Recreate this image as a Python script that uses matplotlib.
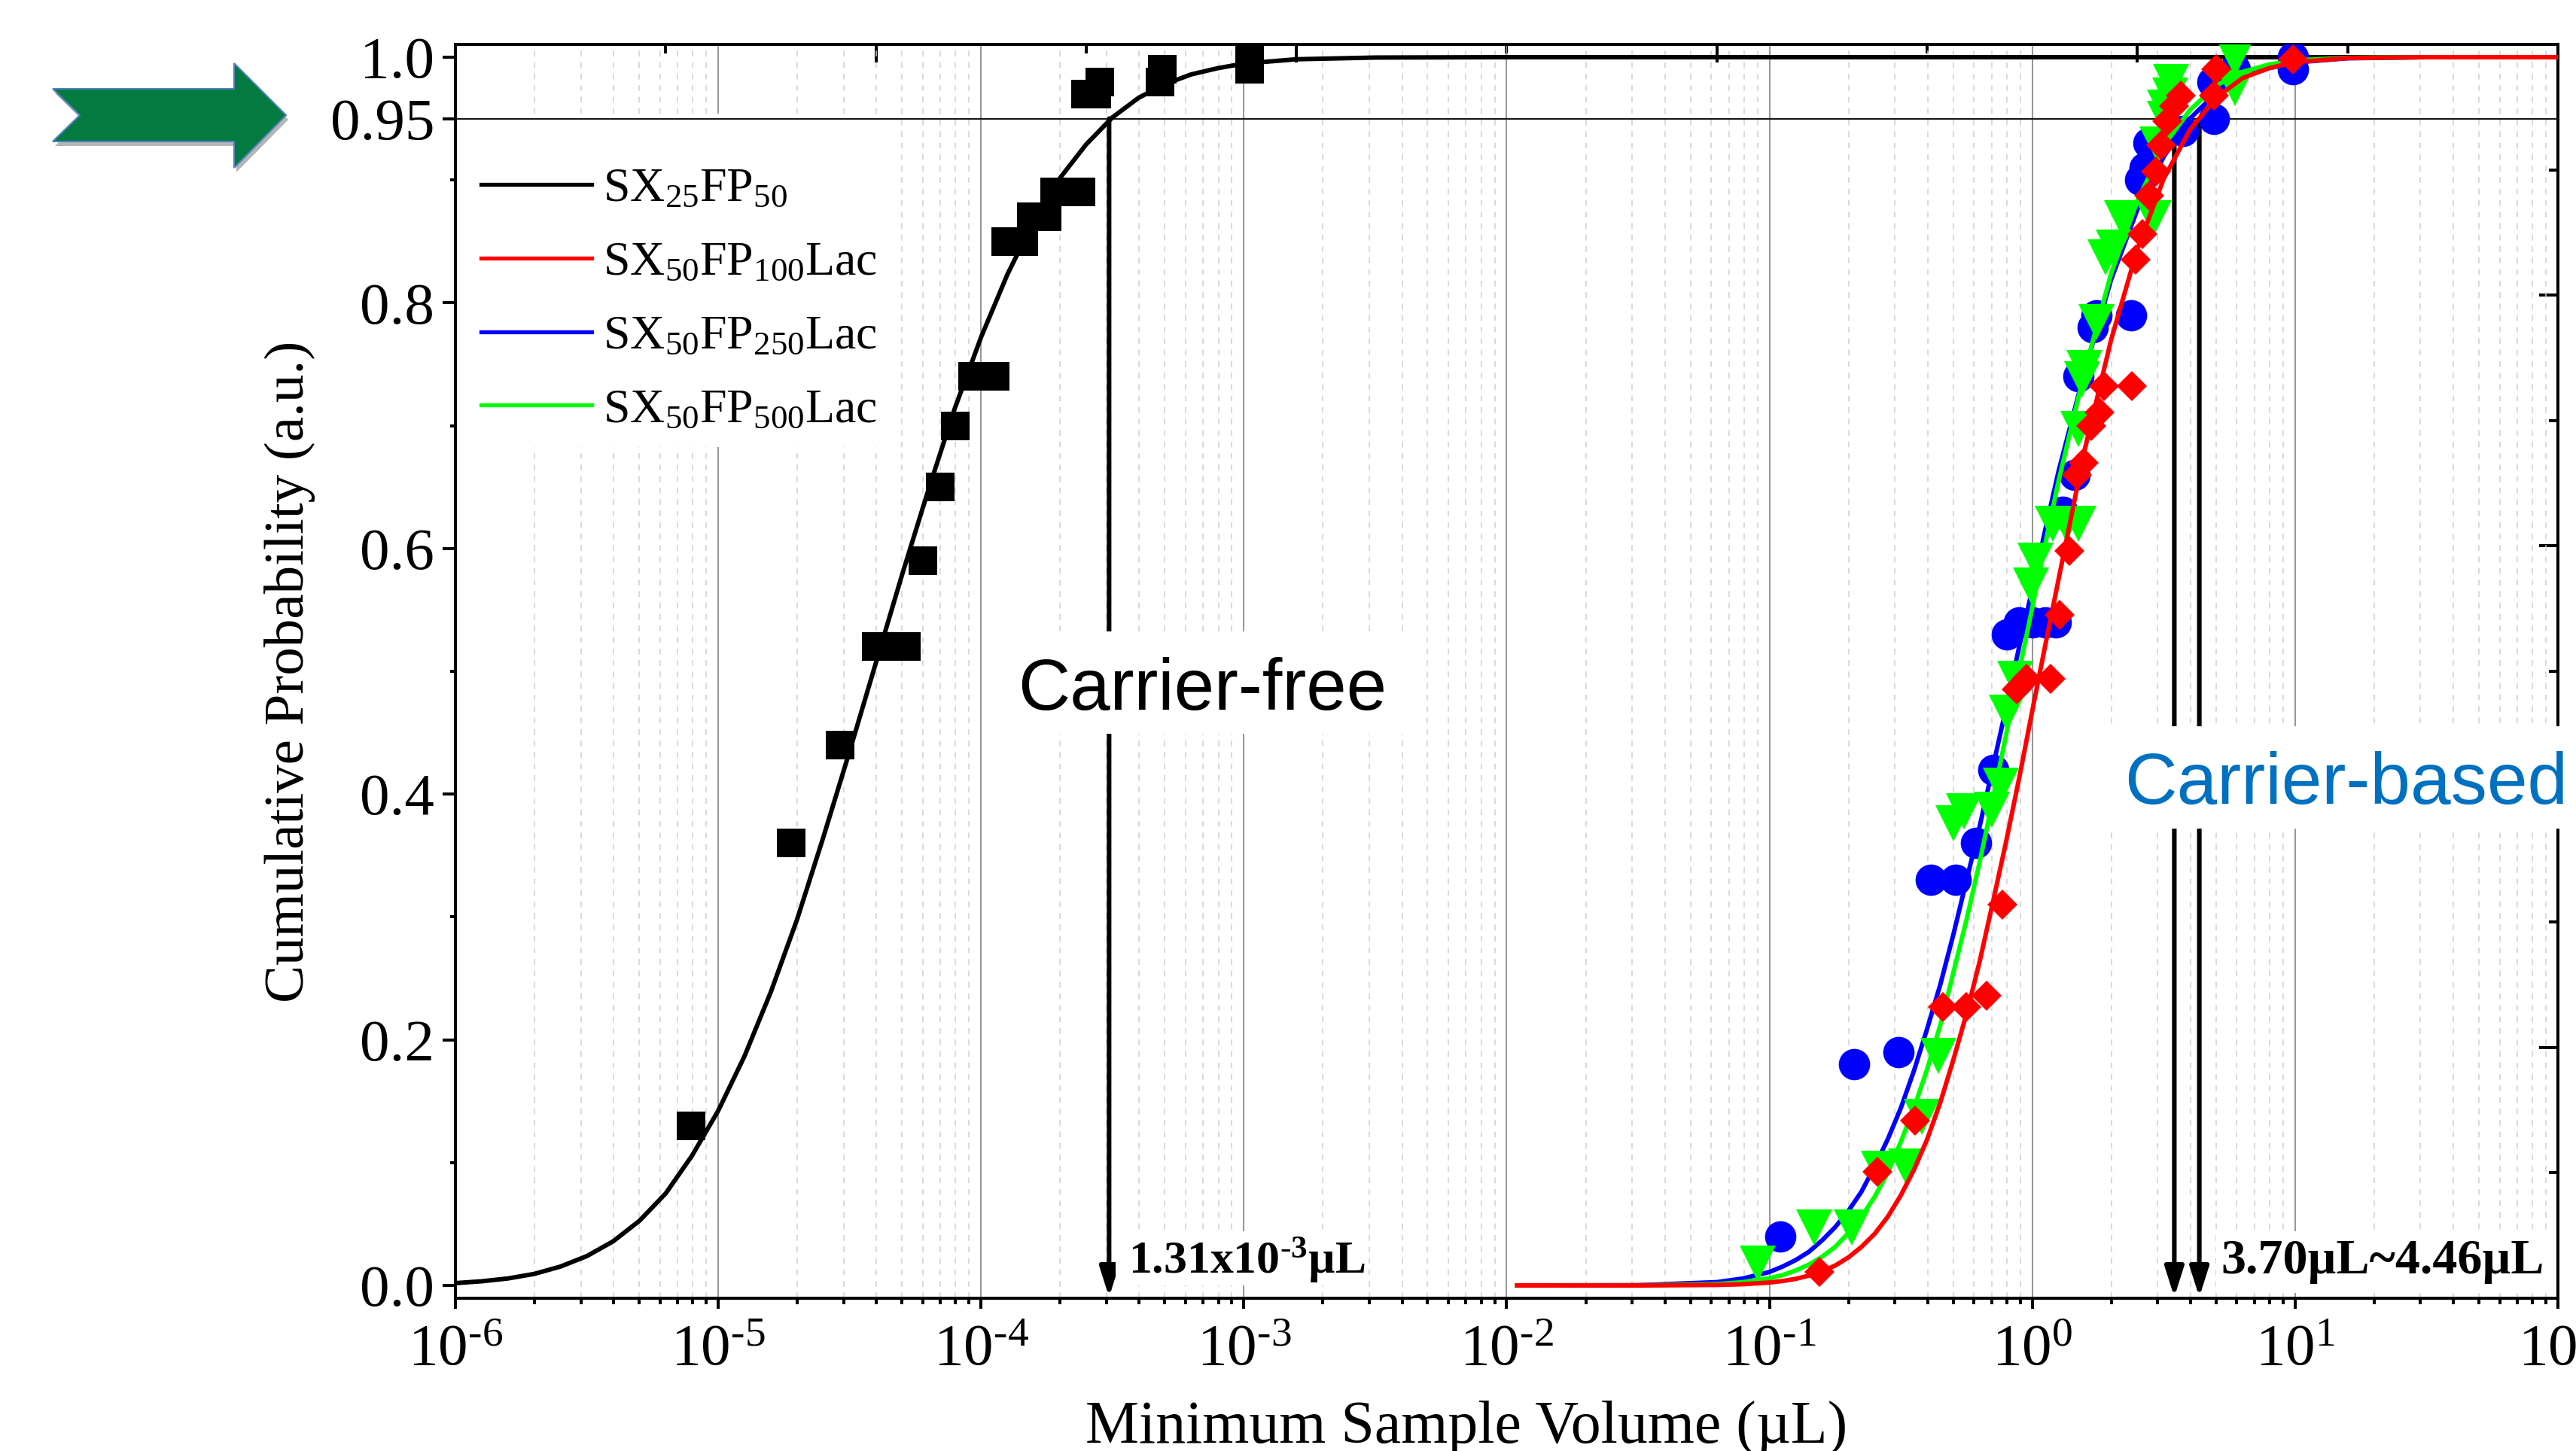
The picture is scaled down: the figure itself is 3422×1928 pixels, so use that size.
import matplotlib
matplotlib.use('Agg')
import matplotlib.pyplot as plt
from matplotlib.lines import Line2D
from matplotlib.patches import Polygon, Rectangle
from matplotlib.ticker import FixedLocator, NullFormatter

import numpy as np

plt.rcParams['font.family'] = ['Liberation Serif', 'DejaVu Serif']
plt.rcParams['mathtext.fontset'] = 'custom'
plt.rcParams['mathtext.rm'] = 'Liberation Serif'
plt.rcParams['mathtext.it'] = 'Liberation Serif:italic'
plt.rcParams['mathtext.bf'] = 'Liberation Serif:bold'
plt.rcParams['mathtext.default'] = 'regular'

W, H = 3423, 1928

# measured points, sample volume in uL
black_x = [7.9e-6, 1.9e-5, 2.9e-5, 4.0e-5, 4.6e-5, 5.2e-5, 6.0e-5, 7.0e-5, 8.0e-5, 9.3e-5, 1.13e-4,
           1.24e-4, 1.45e-4, 1.55e-4, 1.78e-4, 1.9e-4, 2.4e-4, 2.5e-4, 2.75e-4, 2.83e-4, 4.8e-4, 4.9e-4,
           1.05e-3, 1.05e-3]
black_y = [0.13, 0.36, 0.44, 0.52, 0.52, 0.52, 0.59, 0.65, 0.70, 0.74, 0.74,
           0.85, 0.85, 0.87, 0.87, 0.89, 0.89, 0.97, 0.97, 0.98, 0.98, 0.99,
           0.99, 0.999]

red_x = [0.155, 0.257, 0.357, 0.457, 0.56, 0.67, 0.77, 0.87, 0.95, 1.17, 1.27, 1.38, 1.48, 1.57, 1.68,
         1.8, 1.87, 2.4, 2.48, 2.63, 2.79, 2.95, 3.09, 3.27, 3.47, 3.67, 4.9, 5.0, 9.8]
red_y = [0.011, 0.0925, 0.134, 0.227, 0.227, 0.236, 0.31, 0.485, 0.494, 0.494, 0.546, 0.598, 0.66, 0.67, 0.70,
         0.711, 0.732, 0.732, 0.835, 0.856, 0.887, 0.907, 0.928, 0.948, 0.96, 0.969, 0.969, 0.99, 0.998]

blue_x = [0.11, 0.21, 0.31, 0.41, 0.51, 0.61, 0.71, 0.80, 0.89, 1.0, 1.12, 1.23, 1.3, 1.45, 1.5, 1.7, 1.76, 2.37,
          2.57, 2.67, 2.76, 3.74, 4.9, 4.84, 5.9, 9.8, 9.8]
blue_y = [0.04, 0.18, 0.19, 0.33, 0.33, 0.36, 0.42, 0.53, 0.54, 0.54, 0.54, 0.54, 0.63, 0.66, 0.74, 0.78, 0.79, 0.79,
          0.90, 0.91, 0.93, 0.94, 0.95, 0.98, 0.99, 0.99, 1.0]

green_x = [0.09, 0.148, 0.206, 0.26, 0.33, 0.38, 0.44, 0.50, 0.55, 0.70, 0.76, 0.80, 0.86, 0.99, 1.03, 1.2, 1.35, 1.5,
           1.5, 1.55, 1.58, 1.76, 1.9, 2.04, 2.2, 2.9, 3.0, 3.2, 3.2, 3.35, 3.36, 5.9, 5.9]
green_y = [0.018, 0.047, 0.047, 0.095, 0.097, 0.137, 0.187, 0.376, 0.386, 0.387, 0.407, 0.466, 0.494, 0.57, 0.59, 0.62, 0.62, 0.62,
           0.697, 0.738, 0.747, 0.784, 0.837, 0.845, 0.869, 0.869, 0.929, 0.95, 0.959, 0.969, 0.98, 0.975, 0.999]

# fitted curves as log10(volume) / probability
black_fit_e = [-6.0, -5.9, -5.8, -5.7, -5.6, -5.5, -5.4, -5.3, -5.2, -5.1, -5.0, -4.9, -4.8, -4.7, -4.6, -4.5, -4.4,
               -4.3, -4.2, -4.1, -4.0, -3.9, -3.8, -3.7, -3.6, -3.5, -3.4, -3.3, -3.2, -3.1, -3.0, -2.8, -2.5, -2.0, 2.0]
black_fit_y = [0.0019, 0.0034, 0.0057, 0.0094, 0.0154, 0.0239, 0.0359, 0.0526, 0.0749, 0.1056, 0.1423, 0.1867, 0.2389,
               0.298, 0.365, 0.435, 0.507, 0.579, 0.648, 0.714, 0.772, 0.823, 0.8665, 0.9015, 0.929, 0.951, 0.967,
               0.978, 0.986, 0.991, 0.9948, 0.9983, 0.9997, 1.0, 1.0]

carrier_fit_e = [-1.96, -1.5, -1.2, -1.1, -1.0, -0.95, -0.9, -0.85, -0.8, -0.75, -0.7, -0.65, -0.6, -0.55, -0.5, -0.45,
                 -0.4, -0.35, -0.3, -0.25, -0.2, -0.15, -0.1, -0.05, 0.0, 0.05,
                 0.1, 0.2, 0.3, 0.4, 0.5, 0.6, 0.7, 0.8, 0.9, 1.0, 1.2, 1.5, 2.0]
red_fit_y = [0.0, 0.0, 0.0004, 0.001, 0.0024, 0.0036, 0.0054, 0.008, 0.0116, 0.0162, 0.0228, 0.0314, 0.042, 0.0559, 0.0735, 0.0943,
             0.119, 0.149, 0.184, 0.2215, 0.264, 0.312, 0.361, 0.413, 0.468, 0.522,
             0.575, 0.681, 0.77, 0.844, 0.901, 0.941, 0.967, 0.983, 0.991, 0.996, 0.9993, 1.0, 1.0]
blue_fit_y = [0.0, 0.0002, 0.0027, 0.0057, 0.011, 0.0154, 0.0207, 0.0274, 0.0367, 0.0475, 0.0606, 0.0764, 0.0968, 0.119, 0.1446, 0.175,
              0.209, 0.245, 0.286, 0.33, 0.374, 0.422, 0.47, 0.52, 0.567, 0.616,
              0.663, 0.745, 0.819, 0.876, 0.919, 0.95, 0.971, 0.984, 0.991, 0.9957, 0.9991, 1.0, 1.0]
green_fit_y = [0.0, 0.0001, 0.0011, 0.0027, 0.0059, 0.0084, 0.0122, 0.017, 0.0233, 0.0314, 0.0427, 0.0559, 0.0721, 0.0918, 0.117, 0.1446,
               0.176, 0.212, 0.255, 0.298, 0.345, 0.3955, 0.448, 0.50, 0.552, 0.6045,
               0.655, 0.745, 0.824, 0.883, 0.928, 0.957, 0.977, 0.988, 0.994, 0.9974, 0.9995, 1.0, 1.0]

arrow_free = [3.07e-4]
arrow_based = [3.47, 4.32]

x_exps = [-6, -5, -4, -3, -2, -1, 0, 1, 2]
x_ticks = [10.0 ** e for e in x_exps]
x_labels = ['$10^{\\text{-}%d}$' % -e if e < 0 else '$10^{%d}$' % e for e in x_exps]
y_ticks = [0.0, 0.2, 0.4, 0.6, 0.8, 0.95, 1.0]
y_labels = ['0.0', '0.2', '0.4', '0.6', '0.8', '0.95', '1.0']
y_minor = [0.1, 0.3, 0.5, 0.7, 0.9]

legend_names = ['$SX_{25}FP_{50}$', '$SX_{50}FP_{100}Lac$', '$SX_{50}FP_{250}Lac$', '$SX_{50}FP_{500}Lac$']
legend_colors = ['#000000', '#ff0000', '#0000ff', '#00ff00']

# green block arrow, in image pixels
green_arrow = [(70, 118), (311, 118), (311, 84), (380, 153), (311, 223), (311, 188), (70, 188), (106, 153)]


def fig_xy(x, y):
    return x / W, 1 - y / H


def white_box(ax, x0, y0, x1, y1):
    # x0,y0,x1,y1 in image pixels, covers grid, arrows and even the spine
    ax.add_patch(Rectangle(fig_xy(x0, y1), (x1 - x0) / W, (y1 - y0) / H, transform=ax.figure.transFigure,
                           facecolor='white', edgecolor='none', zorder=2.7, clip_on=False))


fig = plt.figure(figsize=(W / 100, H / 100), dpi=100, facecolor='white')
ax = fig.add_axes([605 / W, (H - 1725) / H, 2793 / W, 1666 / H])

# top and right have their own plain tick sets
top = ax.twiny()
right = ax.twinx()
ax.set_zorder(2)
ax.patch.set_visible(False)
top.set_xlim(0, 10)
right.set_ylim(0, 10)
for t in (top, right):
    t.patch.set_visible(False)
    for s in t.spines.values():
        s.set_visible(False)
top.set_xticks(np.arange(0, 11, 2))
top.set_xticks(np.arange(1, 11, 2), minor=True)
top.tick_params(axis='x', which='major', direction='in', length=17, width=2.9, labeltop=False)
top.tick_params(axis='x', which='minor', direction='in', length=8.5, width=2.9, labeltop=False)
right.set_yticks(np.arange(0, 11, 2))
right.set_yticks(np.arange(1, 11, 2), minor=True)
right.tick_params(axis='y', which='major', direction='in', length=18, width=2.9, labelright=False)
right.tick_params(axis='y', which='minor', direction='in', length=9, width=2.9, labelright=False)

ax.set_xscale('log')
ax.set_xlim(1e-6, 1e2)
ax.set_ylim(-0.0104, 1.0104)
ax.set_xticks(x_ticks)
ax.set_xticklabels(x_labels)
ax.xaxis.set_minor_locator(FixedLocator([m * 10.0 ** e for e in x_exps[:-1] for m in range(2, 10)]))
ax.xaxis.set_minor_formatter(NullFormatter())
ax.set_yticks(y_ticks)
ax.set_yticklabels(y_labels)
ax.set_yticks(y_minor, minor=True)
ax.tick_params(axis='x', which='major', length=10, width=2.9, labelsize=57, pad=14)
ax.tick_params(axis='x', which='minor', length=6, width=2.9)
ax.tick_params(axis='y', which='major', length=12, width=2.9, labelsize=57, pad=8)
ax.tick_params(axis='y', which='minor', length=5, width=2.9)
for s in ax.spines.values():
    s.set_linewidth(2.9)

ax.set_axisbelow(True)
ax.xaxis.grid(True, which='major', color='#8c8c8c', linewidth=1.3)
ax.xaxis.grid(True, which='minor', color='#d0d0d0', linewidth=1.1, linestyle=(0, (5, 5)))

ax.set_xlabel('Minimum Sample Volume (µL)', fontsize=57.5, labelpad=22, x=0.481)
ax.set_ylabel('Cumulative Probability (a.u.)', fontsize=54, labelpad=14)

# white patches from the original slide
white_box(ax, 611, 151, 1180, 594)
white_box(ax, 1330, 839, 1879, 975)
white_box(ax, 2800, 965, 3423, 1101)
white_box(ax, 1482, 1636, 1818, 1708)
white_box(ax, 2944, 1636, 3383, 1718)

ax.axhline(0.95, color='#1a1a1a', linewidth=1.6, zorder=2.8)

for x in arrow_free + arrow_based:
    ax.annotate('', xy=(x, -0.0095), xytext=(x, 0.95), zorder=2.6,
                arrowprops=dict(arrowstyle='-|>,head_length=24,head_width=7.6', mutation_scale=1,
                                color='black', linewidth=4.4, shrinkA=0, shrinkB=0))

# markers and curves, red comes last on top
ax.plot(black_x, black_y, linestyle='none', marker='s', markersize=27, color='black', markeredgewidth=0, zorder=3)
ax.plot(10.0 ** np.array(black_fit_e), black_fit_y, color='black', linewidth=4.3, zorder=3.1)
ax.plot(blue_x, blue_y, linestyle='none', marker='o', markersize=30, color='#0000ff', markeredgewidth=0, zorder=3.2)
ax.plot(10.0 ** np.array(carrier_fit_e), blue_fit_y, color='#0000ff', linewidth=4.3, zorder=3.3)
ax.plot(green_x, green_y, linestyle='none', marker='v', markersize=35, color='#00ff00', markeredgewidth=0, zorder=3.4)
ax.plot(10.0 ** np.array(carrier_fit_e), green_fit_y, color='#00ff00', linewidth=4.3, zorder=3.5)
ax.plot(red_x, red_y, linestyle='none', marker='D', markersize=20.5, color='#ff0000', markeredgewidth=0, zorder=3.6)
ax.plot(10.0 ** np.array(carrier_fit_e), red_fit_y, color='#ff0000', linewidth=4.3, zorder=3.7)

handles = [Line2D([], [], color=c, linewidth=3.8) for c in legend_colors]
leg = ax.legend(handles, legend_names, loc='upper left', bbox_to_anchor=((639 - 605) / 2793, 1 - (223 - 59) / 1666),
                frameon=False, fontsize=46, handlelength=2.3, handletextpad=0.23, labelspacing=0.61,
                borderaxespad=0, borderpad=0)
leg.set_zorder(5)

x0, y0 = fig_xy(1597, 918)
fig.text(x0, y0, 'Carrier-free', fontsize=69, family=['Liberation Sans'], ha='center', va='center', zorder=10)
x0, y0 = fig_xy(3117, 1043)
fig.text(x0, y0, 'Carrier-based', fontsize=69.4, family=['Liberation Sans'], color='#0070c0', ha='center', va='center', zorder=10)
x0, y0 = fig_xy(1499, 1692)
fig.text(x0, y0, '1.31x10$\\mathbf{^{\\text{-}3}}$µL', fontsize=44.5, fontweight='bold', ha='left', va='baseline', zorder=10)
x0, y0 = fig_xy(2950, 1692)
fig.text(x0, y0, '3.70µL~4.46µL', fontsize=47.5, fontweight='bold', ha='left', va='baseline', zorder=10)

# arrow on the left with a soft shadow
fig.add_artist(Polygon([fig_xy(x + 3, y + 6) for x, y in green_arrow], closed=True, transform=fig.transFigure,
                       facecolor='#b5b5b5', edgecolor='none'))
fig.add_artist(Polygon([fig_xy(x, y) for x, y in green_arrow], closed=True, transform=fig.transFigure,
                       facecolor='#037a40', edgecolor='#4f81bd', linewidth=1.5))

fig.savefig('out.png', dpi=100)
plt.close(fig)
